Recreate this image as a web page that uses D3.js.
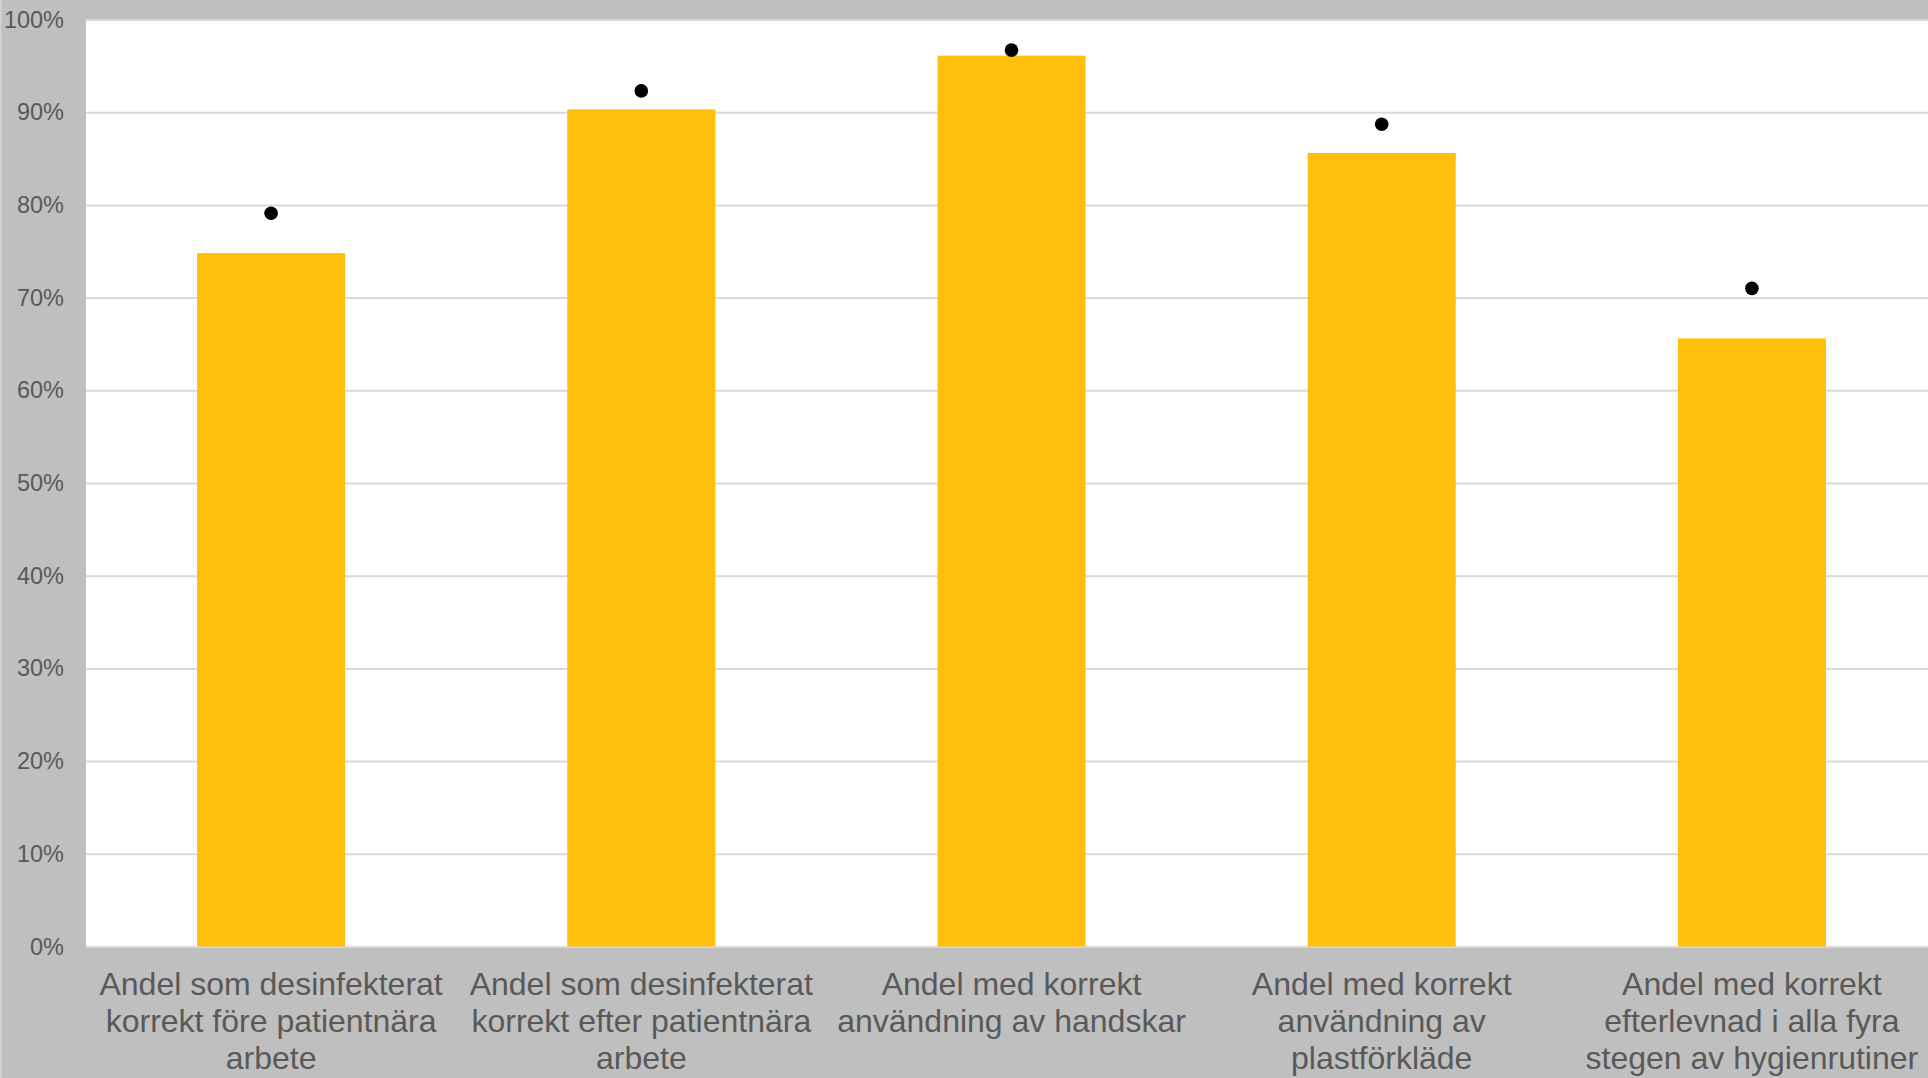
<!DOCTYPE html>
<html>
<head>
<meta charset="utf-8">
<script src="https://cdn.jsdelivr.net/npm/d3@7"></script>
<style>
  html, body { margin: 0; padding: 0; background: #bfbfbf; overflow: hidden; }
  svg { display: block; }
  text { font-family: "Liberation Sans", Arial, sans-serif; }
</style>
</head>
<body>
<svg id="chart" width="1928" height="1078"></svg>
<script>
// ---- data ----
const categories = [
  "Andel som desinfekterat korrekt före patientnära arbete",
  "Andel som desinfekterat korrekt efter patientnära arbete",
  "Andel med korrekt användning av handskar",
  "Andel med korrekt användning av plastförkläde",
  "Andel med korrekt efterlevnad i alla fyra stegen av hygienrutiner"
];
const categoryLines = [
  ["Andel som desinfekterat", "korrekt före patientnära", "arbete"],
  ["Andel som desinfekterat", "korrekt efter patientnära", "arbete"],
  ["Andel med korrekt", "användning av handskar"],
  ["Andel med korrekt", "användning av", "plastförkläde"],
  ["Andel med korrekt", "efterlevnad i alla fyra", "stegen av hygienrutiner"]
];
const barValues = [0.748, 0.903, 0.961, 0.856, 0.656];
const dotValues = [0.791, 0.923, 0.967, 0.887, 0.710];
const yTicks = [0, 0.1, 0.2, 0.3, 0.4, 0.5, 0.6, 0.7, 0.8, 0.9, 1.0];

// ---- layout ----
const W = 1928, H = 1078;
const plot = { left: 86, right: 1937, top: 19.5, bottom: 946.5 };

const svg = d3.select("#chart");

svg.append("rect").attr("x", 0).attr("y", 0).attr("width", W).attr("height", H).attr("fill", "#bfbfbf");
svg.append("rect").attr("x", 0).attr("y", 0).attr("width", 1.5).attr("height", H).attr("fill", "#d4d4d4");

const x = d3.scaleBand()
  .domain(categories)
  .range([plot.left, plot.right])
  .paddingInner(0.6)
  .paddingOuter(0.3);

const y = d3.scaleLinear()
  .domain([0, 1])
  .range([plot.bottom, plot.top]);

// plot area
svg.append("rect")
  .attr("x", plot.left).attr("y", plot.top)
  .attr("width", plot.right - plot.left).attr("height", plot.bottom - plot.top)
  .attr("fill", "#ffffff");

// gridlines
const grid = svg.append("g")
  .attr("transform", `translate(${plot.left},0)`)
  .call(d3.axisLeft(y).tickValues(yTicks).tickSize(-(plot.right - plot.left)).tickFormat(""));
grid.select(".domain").remove();
grid.selectAll(".tick line").attr("stroke", "#d9d9d9").attr("stroke-width", 2);

// y axis labels
const yAxis = svg.append("g")
  .attr("transform", `translate(${plot.left},0)`)
  .call(d3.axisLeft(y).tickValues(yTicks).tickSize(0).tickPadding(22).tickFormat(d3.format(".0%")));
yAxis.select(".domain").remove();
yAxis.selectAll(".tick text")
  .attr("fill", "#595959")
  .style("font-size", "23.5px")
  .style("font-family", "'Liberation Sans', Arial, sans-serif");

// bars
svg.append("g").selectAll("rect")
  .data(barValues)
  .join("rect")
  .attr("x", (d, i) => x(categories[i]))
  .attr("y", d => y(d))
  .attr("width", x.bandwidth())
  .attr("height", d => y(0) - y(d))
  .attr("fill", "#ffbf0c");

// dots
svg.append("g").selectAll("circle")
  .data(dotValues)
  .join("circle")
  .attr("cx", (d, i) => x(categories[i]) + x.bandwidth() / 2)
  .attr("cy", d => y(d))
  .attr("r", 6.8)
  .attr("fill", "#000000");

// x axis labels
const xAxis = svg.append("g")
  .attr("transform", `translate(0,${plot.bottom})`)
  .call(d3.axisBottom(x).tickSize(0).tickFormat(""));
xAxis.select(".domain").remove();
xAxis.selectAll(".tick").each(function(d, i) {
  const t = d3.select(this).append("text")
    .attr("text-anchor", "middle")
    .attr("fill", "#595959")
    .style("font-size", "32px")
    .style("font-family", "'Liberation Sans', Arial, sans-serif");
  categoryLines[i].forEach((line, j) => {
    t.append("tspan").attr("x", 0).attr("y", 48.3 + j * 36.9).text(line);
  });
});
</script>
</body>
</html>
